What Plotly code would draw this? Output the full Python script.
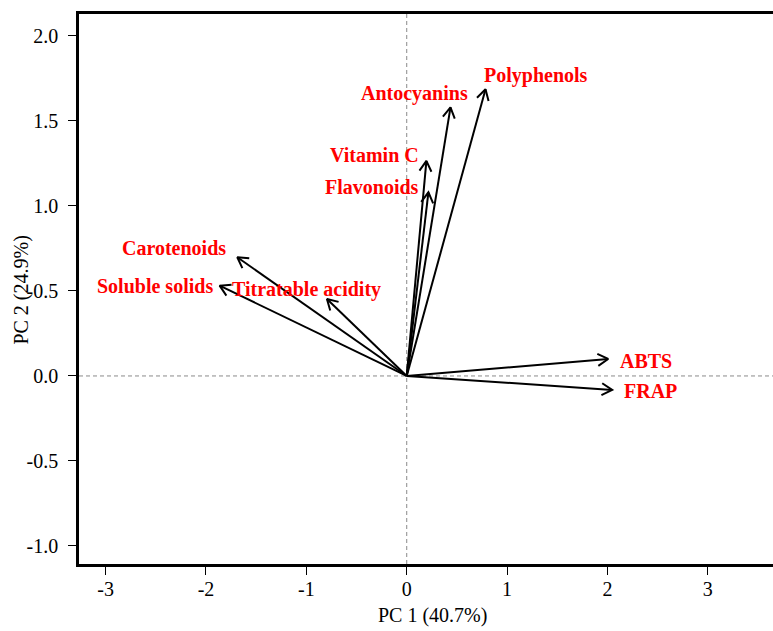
import math
import plotly.graph_objects as go

# ---- data (PCA loadings) ----
variables = ["Polyphenols", "Antocyanins", "Vitamin C", "Flavonoids", "Carotenoids",
             "Soluble solids", "Titratable acidity", "ABTS", "FRAP"]
pc1 = [0.785, 0.436, 0.196, 0.216, -1.688, -1.864, -0.795, 2.007, 2.047]
pc2 = [1.686, 1.580, 1.265, 1.080, 0.698, 0.531, 0.453, 0.100, -0.082]

x_ticks = [-3, -2, -1, 0, 1, 2, 3]
x_tick_labels = ["-3", "-2", "-1", "0", "1", "2", "3"]
y_ticks = [-1.0, -0.5, 0.0, 0.5, 1.0, 1.5, 2.0]
y_tick_labels = ["-1.0", "-0.5", "0.0", "-0.5", "1.0", "1.5", "2.0"]

x_title = "PC 1 (40.7%)"
y_title = "PC 2 (24.9%)"

# ---- label placement (pixel offsets relative to arrow tip) ----
label_anchor = ["left", "right", "right", "right", "right", "right", "center", "left", "left"]
label_dx = [-4, 20, -5, -7, -9, -5, -20, 10, 10]
label_dy = [14, 14, 6, 5, 9, 0, 9, -2, -1]

# ---- layout geometry ----
W, H = 773, 631
ML, MR, MT, MB = 79, 0, 14, 67
x_range = [-3.265, 3.649]
y_range = [-1.106, 2.129]
plot_w = W - ML - MR
plot_h = H - MT - MB
kx = plot_w / (x_range[1] - x_range[0])
ky = plot_h / (y_range[1] - y_range[0])

serif = "Liberation Serif, Times New Roman, serif"
head_len = 12.0
head_ang = math.radians(30)

fig = go.Figure()

for name, x, y in zip(variables, pc1, pc2):
    theta = math.atan2(y * ky, x * kx)
    hx = [x - head_len * math.cos(theta + s * head_ang) / kx for s in (1, -1)]
    hy = [y - head_len * math.sin(theta + s * head_ang) / ky for s in (1, -1)]
    fig.add_trace(go.Scatter(
        x=[0, x, None, hx[0], x, hx[1]],
        y=[0, y, None, hy[0], y, hy[1]],
        mode="lines",
        line=dict(color="black", width=2),
        hoverinfo="skip",
        showlegend=False,
    ))

# dashed reference lines
fig.add_shape(type="line", xref="x", yref="paper", x0=0, x1=0, y0=0, y1=1,
              line=dict(color="#8a8a8a", width=1, dash="4px,3px"), layer="below")
fig.add_shape(type="line", xref="paper", yref="y", x0=0, x1=1, y0=0, y1=0,
              line=dict(color="#8a8a8a", width=1, dash="4px,3px"), layer="below")

annotations = []
for name, x, y, anc, dx, dy in zip(variables, pc1, pc2, label_anchor, label_dx, label_dy):
    annotations.append(dict(
        x=x, y=y, xref="x", yref="y", text="<b>%s</b>" % name, showarrow=False,
        xanchor=anc, yanchor="middle", xshift=dx, yshift=dy,
        font=dict(family=serif, size=20, color="#ff0000"),
    ))

annotations.append(dict(
    x=(432 - ML) / plot_w, y=0, xref="paper", yref="paper", text=x_title,
    showarrow=False, xanchor="center", yanchor="middle", yshift=-51,
    font=dict(family=serif, size=20, color="black"),
))
annotations.append(dict(
    x=0, y=0.498, xref="paper", yref="paper", text=y_title, textangle=-90,
    showarrow=False, xanchor="center", yanchor="middle", xshift=-57.5,
    font=dict(family=serif, size=20, color="black"),
))

fig.update_layout(
    width=W, height=H,
    margin=dict(l=ML, r=MR, t=MT, b=MB, pad=0),
    paper_bgcolor="white", plot_bgcolor="white",
    showlegend=False,
    annotations=annotations,
    xaxis=dict(
        range=x_range, tickvals=x_ticks, ticktext=x_tick_labels,
        showgrid=False, zeroline=False,
        showline=True, linecolor="black", linewidth=2.5, mirror=True,
        ticks="outside", ticklen=8, tickwidth=1, tickcolor="black",
        ticklabelstandoff=-3,
        tickfont=dict(family=serif, size=20, color="black"),
    ),
    yaxis=dict(
        range=y_range, tickvals=y_ticks, ticktext=y_tick_labels,
        showgrid=False, zeroline=False,
        showline=True, linecolor="black", linewidth=2.5, mirror=False,
        ticks="outside", ticklen=8, tickwidth=1, tickcolor="black",
        ticklabelstandoff=6,
        tickfont=dict(family=serif, size=20, color="black"),
    ),
)

fig.write_html(
    "out.html",
    config={"displayModeBar": False},
    post_script="document.body.style.margin='0px';document.body.style.overflow='hidden';",
)
